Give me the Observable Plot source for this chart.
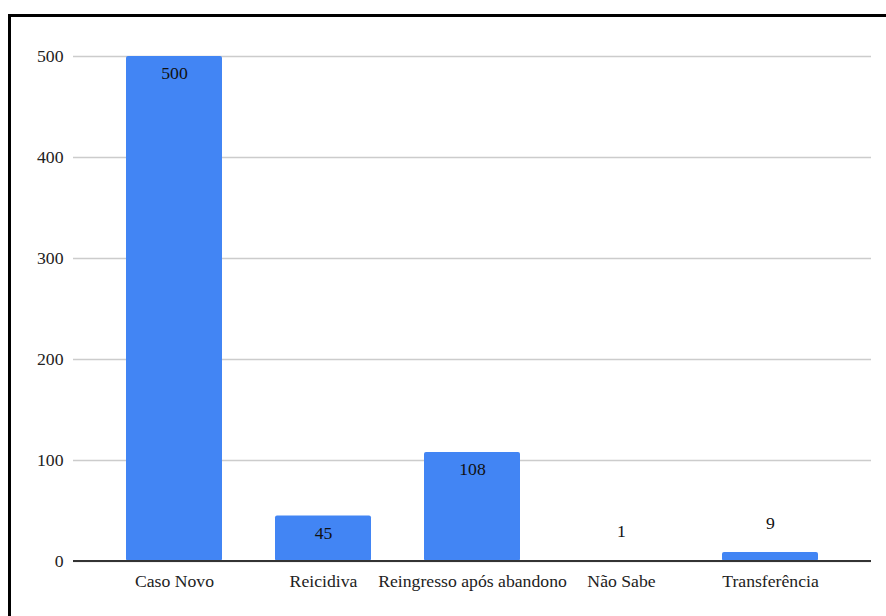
<!DOCTYPE html>
<html>
<head>
<meta charset="utf-8">
<script src="https://cdn.jsdelivr.net/npm/d3@7"></script>
<script src="https://cdn.jsdelivr.net/npm/@observablehq/plot@0.6"></script>
<style>
  html, body { margin: 0; padding: 0; background: #fff; }
  #wrap { position: relative; width: 886px; height: 616px; overflow: hidden; }
  #wrap svg { position: absolute; left: 0; top: 0; }
  #border {
    position: absolute; left: 8px; top: 14px; width: 1000px; height: 1000px;
    border-left: 3px solid #000; border-top: 3px solid #000;
    pointer-events: none;
  }
</style>
</head>
<body>
<div id="wrap"><div id="border"></div></div>
<script>
// Tipo de entrada dos casos
const categories = ["Caso Novo", "Reicidiva", "Reingresso após abandono", "Não Sabe", "Transferência"];
const values = [500, 45, 108, 1, 9];
const yTicks = [0, 100, 200, 300, 400, 500];

const data = categories.map((c, i) => ({category: c, value: values[i]}));
const font = "Liberation Serif";
const size = 17.7;

const chart = Plot.plot({
  width: 886,
  height: 616,
  marginLeft: 73,
  marginRight: 15,
  marginTop: 56,
  marginBottom: 55,
  style: {fontSize: size + "px", color: "#222", background: "transparent"},
  x: {domain: categories, padding: 0.354, label: null},
  y: {domain: [0, 500], label: null},
  marks: [
    Plot.gridY(yTicks, {stroke: "#cccccc", strokeOpacity: 1, strokeWidth: 1.5}),
    Plot.axisY(yTicks, {tickSize: 0, tickPadding: 10, fontSize: size, label: null, dy: -0.5}),
    Plot.axisX({tickSize: 0, tickPadding: 13, fontSize: size, label: null}),
    Plot.barY(data, {x: "category", y: "value", fill: "#4285f4", rx: 2}),
    Plot.ruleY([0], {stroke: "#333", strokeWidth: 2, dy: -0.5}),
    // values shown inside tall bars, above short ones
    Plot.text(data.filter(d => d.value >= 20), {
      x: "category", y: "value", text: d => String(d.value),
      dy: 17, fontSize: size, fill: "#111"
    }),
    Plot.text(data.filter(d => d.value < 20), {
      x: "category", y: "value", text: d => String(d.value),
      dy: -29, fontSize: size, fill: "#111"
    })
  ]
});

// serif face for every label
d3.select(chart).attr("font-family", font).style("font-family", font);
d3.select(chart).selectAll("text").style("font-family", font);
d3.select(chart).selectAll("g").attr("font-family", null);

document.getElementById("wrap").insertBefore(chart, document.getElementById("border"));
</script>
</body>
</html>
